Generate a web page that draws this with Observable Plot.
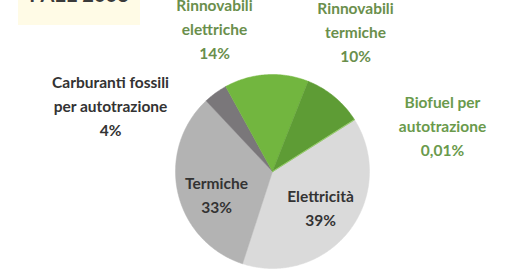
<!DOCTYPE html>
<html><head><meta charset="utf-8">
<script src="https://cdn.jsdelivr.net/npm/d3@7"></script>
<script src="https://cdn.jsdelivr.net/npm/@observablehq/plot@0.6"></script>
<style>
body{margin:0;background:#fff;}
#wrap{position:relative;width:518px;height:272px;overflow:hidden;font-family:Lato,sans-serif;}
#wrap svg{position:absolute;left:0;top:0;}
#tag{position:absolute;left:18px;top:-17px;width:122px;height:42px;background:#fffbe6;font-weight:bold;font-size:20px;color:#3a3a3a;text-align:center;line-height:22px;z-index:2;}
</style></head><body><div id="wrap"><div id="tag">PAEE 2008</div></div>
<script>
const categories = ["Elettricità","Termiche","Carburanti fossili\nper autotrazione","Rinnovabili\nelettriche","Rinnovabili\ntermiche","Biofuel per\nautotrazione"];
const values = [39, 33, 4, 14, 10, 0.01];
const valueLabels = ["39%", "33%", "4%", "14%", "10%", "0,01%"];

// styling / layout (not data)
const sliceColors = ["#dadada", "#b3b3b3", "#7a777a", "#72b63f", "#5e9c35", "#9bd46a"];
const labelColors = ["#333333", "#333333", "#333333", "#6a8f4c", "#6a8f4c", "#6a9a4c"];
const labelPos = [[320, 206], [216, 193], [110, 104], [214, 27], [355, 30], [442, 124]];
const cx = 272, cy = 171, R = 97;
const startAngle = 57.6 * Math.PI / 180;

const arcs = d3.pie().sort(null).startAngle(startAngle).endAngle(startAngle + 2 * Math.PI)(values);
const pts = [];
arcs.forEach((a, i) => {
  pts.push({k: i, x: cx, y: cy, c: sliceColors[i]});
  const n = Math.max(2, Math.ceil((a.endAngle - a.startAngle) / 0.01));
  for (let j = 0; j <= n; j++) {
    const t = a.startAngle + (a.endAngle - a.startAngle) * j / n;
    pts.push({k: i, x: cx + R * Math.sin(t), y: cy - R * Math.cos(t), c: sliceColors[i]});
  }
});

const labels = categories.map((c, i) => ({
  text: c + "\n" + valueLabels[i],
  x: labelPos[i][0], y: labelPos[i][1], col: labelColors[i]
}));

const chart = Plot.plot({
  width: 518, height: 272,
  margin: 0,
  x: {domain: [0, 518], range: [0, 518], axis: null},
  y: {domain: [0, 272], range: [0, 272], axis: null},
  color: {type: "identity"},
  style: {background: "transparent"},
  marks: [
    Plot.line(pts, {x: "x", y: "y", z: "k", fill: "c", stroke: "c", strokeWidth: 0.5, curve: "linear-closed"}),
    Plot.text(labels, {x: "x", y: "y", text: "text", fill: "col", fontSize: 15.5, fontWeight: "bold",
      fontFamily: "Lato, sans-serif", lineHeight: 1.55, textAnchor: "middle", lineAnchor: "middle"})
  ]
});
document.getElementById("wrap").appendChild(chart);
</script></body></html>
